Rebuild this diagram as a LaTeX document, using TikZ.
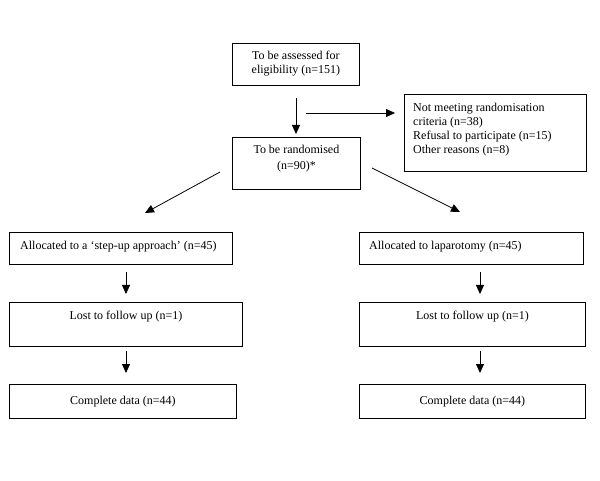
\documentclass[tikz,border=0pt]{standalone}
\usepackage{fontspec}
\setmainfont{Liberation Serif}
\usetikzlibrary{arrows.meta,calc}
\begin{document}
\begin{tikzpicture}[x=1pt,y=-1pt,
  box/.style={draw,line width=0.8pt,anchor=north west,inner sep=0pt},
  txt/.style={font=\fontsize{12}{14}\selectfont,inner sep=0pt},
  arr/.style={line width=0.8pt,-{Triangle[length=9pt,width=8pt]}}]
\useasboundingbox (0,0) rectangle (600,481);
% boxes
\node[box,minimum width=127,minimum height=42] (a) at (232,43) {};
\node[txt,align=center] at ($(a.center)+(0,-1)$) {To be assessed for\\eligibility (n=151)};
\node[box,minimum width=182,minimum height=77] (ex) at (404,94) {};
\node[txt,align=left,anchor=north west] at (413,103) {Not meeting randomisation\\criteria (n=38)\\Refusal to participate (n=15)\\Other reasons (n=8)};
\node[box,minimum width=128,minimum height=52] (r) at (232,137) {};
\node[txt,align=center,font=\fontsize{12}{16}\selectfont] at ($(r.north)+(0,22)$) {To be randomised\\(n=90)*};
% left column
\node[box,minimum width=223,minimum height=32] (l1) at (9,232) {};
\node[txt,anchor=west] at ($(l1.west)+(11,-2)$) {Allocated to a ‘step-up approach’ (n=45)};
\node[box,minimum width=233,minimum height=44] (l2) at (9,302) {};
\node[txt] at ($(l2.north)+(0,15)$) {Lost to follow up (n=1)};
\node[box,minimum width=227,minimum height=34] (l3) at (9,384) {};
\node[txt] at (l3.center) {Complete data (n=44)};
% right column
\node[box,minimum width=224,minimum height=32] (r1) at (359,232) {};
\node[txt,anchor=west] at ($(r1.west)+(10,-2)$) {Allocated to laparotomy (n=45)};
\node[box,minimum width=226,minimum height=44] (r2) at (359,302) {};
\node[txt] at ($(r2.north)+(0,15)$) {Lost to follow up (n=1)};
\node[box,minimum width=226,minimum height=34] (r3) at (359,384) {};
\node[txt] at (r3.center) {Complete data (n=44)};
% arrows
\coordinate (t0) at (296,98);
\coordinate (t1) at (296,134);
\draw[arr] (t0) -- (t1);
\coordinate (h0) at (306,113);
\coordinate (h1) at (395,113);
\draw[arr] (h0) -- (h1);
\coordinate (dl0) at (220,172);
\coordinate (dl1) at (145,213);
\draw[arr] (dl0) -- (dl1);
\coordinate (dr0) at (372,168);
\coordinate (dr1) at (460,212);
\draw[arr] (dr0) -- (dr1);
\coordinate (la0) at (126,272);
\coordinate (la1) at (126,294);
\draw[arr] (la0) -- (la1);
\coordinate (lb0) at (126,351);
\coordinate (lb1) at (126,373);
\draw[arr] (lb0) -- (lb1);
\coordinate (ra0) at (480,272);
\coordinate (ra1) at (480,294);
\draw[arr] (ra0) -- (ra1);
\coordinate (rb0) at (480,351);
\coordinate (rb1) at (480,373);
\draw[arr] (rb0) -- (rb1);
\end{tikzpicture}
\end{document}
